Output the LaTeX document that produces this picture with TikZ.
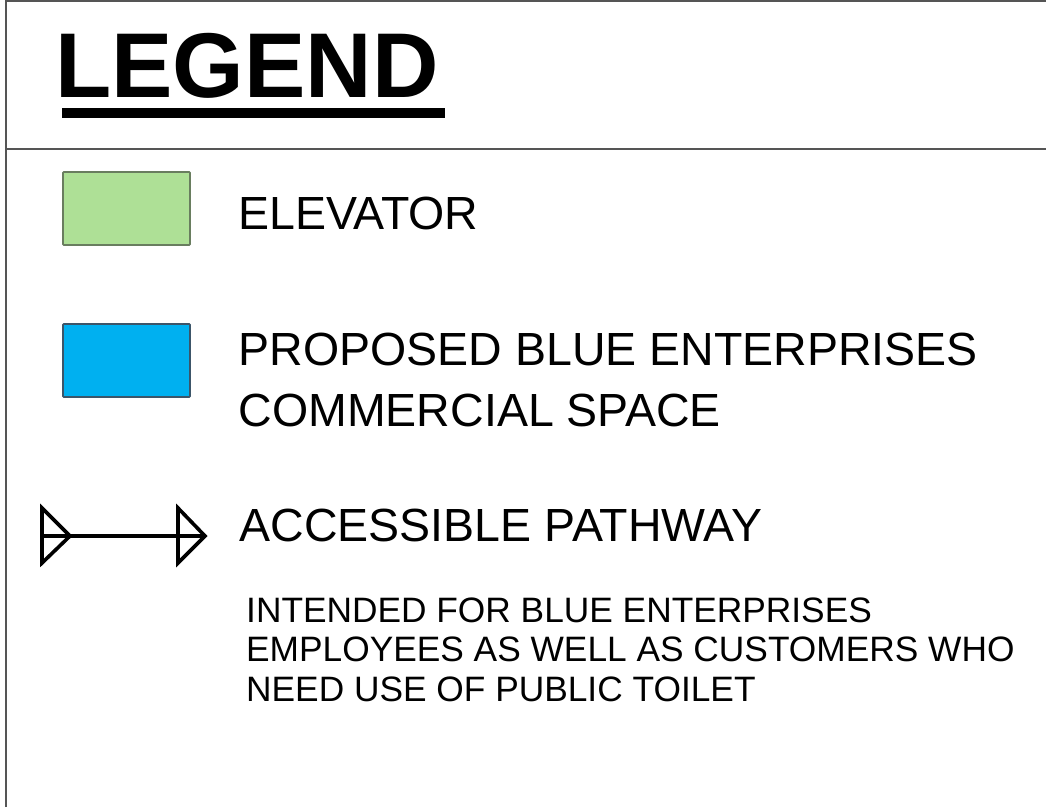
\documentclass[tikz,border=0pt]{standalone}
\usepackage{fontspec}
\setmainfont{Liberation Sans}
\definecolor{elevgreen}{RGB}{174,224,150}
\definecolor{elevedge}{RGB}{105,125,95}
\definecolor{spaceblue}{RGB}{0,176,240}
\definecolor{spaceedge}{RGB}{60,85,105}
\definecolor{framegray}{RGB}{85,85,85}
\begin{document}
\begin{tikzpicture}[x=1pt,y=-1pt,
  frame/.style={draw=framegray,line width=2pt},
  swatch/.style={rectangle,minimum width=127pt,minimum height=73pt,inner sep=0pt,line width=1.6pt,rounded corners=0.8pt},
  bigtext/.style={anchor=base west,inner sep=0pt,font=\fontsize{46.5}{55}\selectfont},
  smalltext/.style={anchor=base west,inner sep=0pt,font=\fontsize{35.3}{42}\selectfont},
  pathline/.style={line width=3.6pt,line join=miter}]
\useasboundingbox (0,0) rectangle (1046,807);
% frame
\draw[frame] (5.5,807) -- (5.5,1.2) -- (1046,1.2);
\draw[frame] (5.5,149) -- (1046,149);
% title
\node[anchor=base west,inner sep=0pt,font=\fontsize{92}{100}\selectfont\bfseries] (title) at (55,97) {LEGEND};
\fill (62,108) rectangle (445,118);
% swatches
\node[swatch,fill=elevgreen,draw=elevedge] (elev) at (126.5,208.5) {};
\node[swatch,fill=spaceblue,draw=spaceedge] (space) at (126.5,360.5) {};
% labels
\node[bigtext] (elevlabel) at (238,229) {ELEVATOR};
\node[bigtext] (spacelabelA) at (238.5,365) {PROPOSED BLUE ENTERPRISES};
\node[bigtext] (spacelabelB) at (238.5,426) {COMMERCIAL SPACE};
\node[bigtext] (pathlabel) at (239.5,541) {ACCESSIBLE PATHWAY};
\node[smalltext] (noteA) at (246,622) {INTENDED FOR BLUE ENTERPRISES};
\node[smalltext] (noteB) at (246,661.5) {EMPLOYEES AS WELL AS CUSTOMERS WHO};
\node[smalltext] (noteC) at (246,701) {NEED USE OF PUBLIC TOILET};
% accessible pathway symbol
\coordinate (pa) at (42,536);
\coordinate (pb) at (205,536);
\draw[pathline] (pa) -- (pb);
\draw[pathline] (42,508) -- (70,536) -- (42,563) -- cycle;
\draw[pathline] (178,508) -- (205,536) -- (178,563) -- cycle;
\end{tikzpicture}
\end{document}
